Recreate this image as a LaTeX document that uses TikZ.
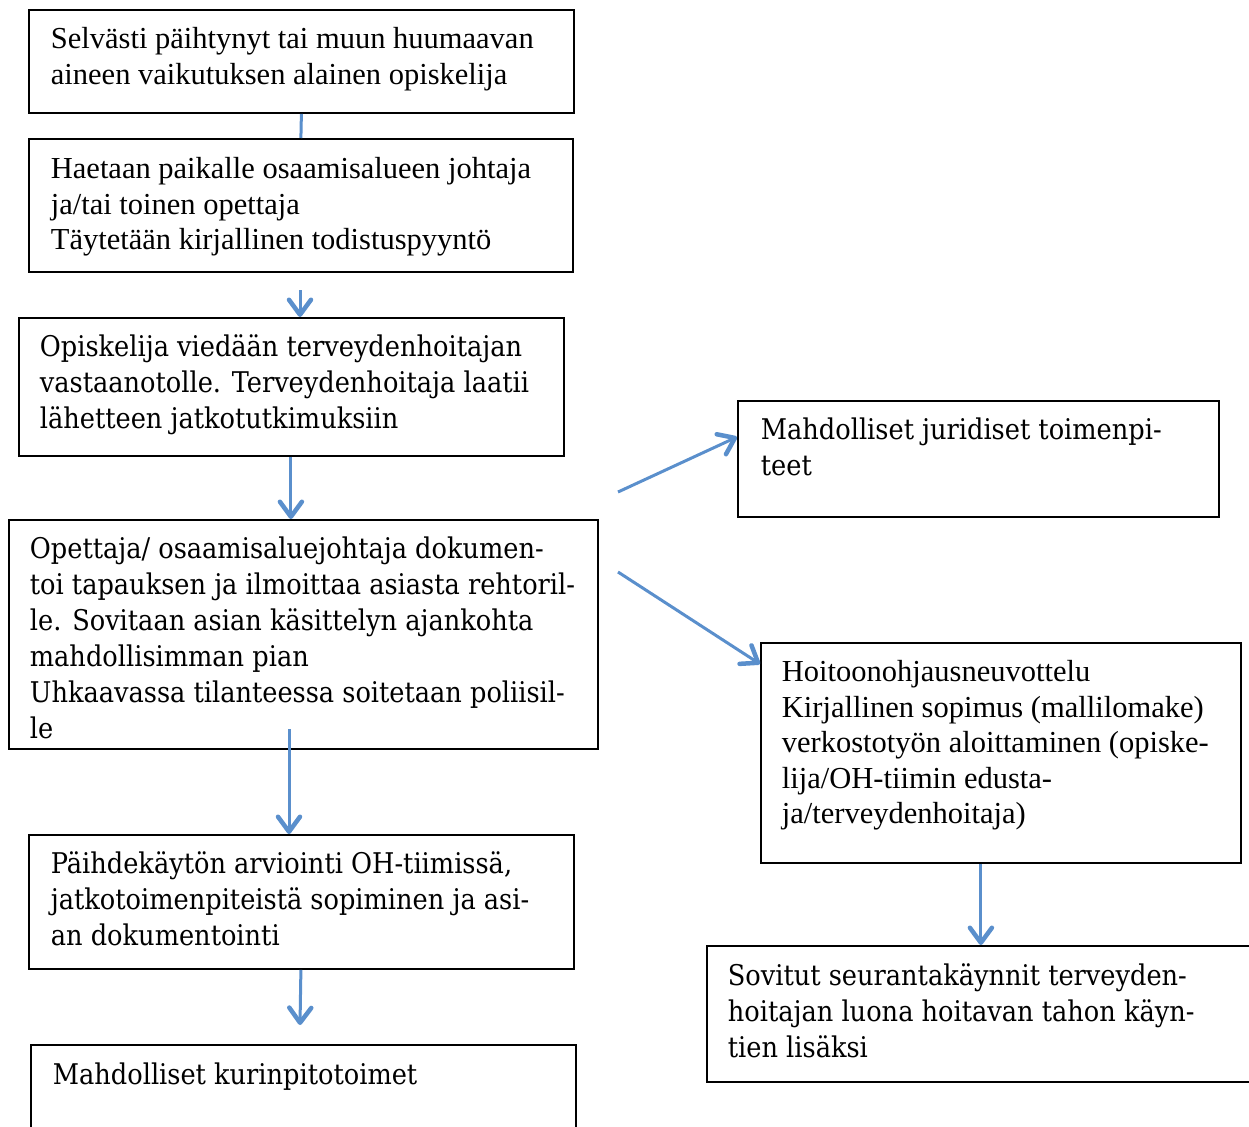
\documentclass[tikz,border=0pt]{standalone}
\usepackage{fontspec}
\setmainfont{Liberation Serif}
\newfontfamily\camfont{DejaVu Serif Condensed}
\usetikzlibrary{arrows.meta}
\definecolor{conblue}{HTML}{5A8FCC}
% #1 width, #2 height, #3 left pad, #4 first baseline offset, #5 text
\newcommand\bt[5]{\parbox[c][#2][t]{#1}{\raggedright\setlength\leftskip{#3}\rule{0pt}{#4}#5\par}}
\newcommand\tms{\fontsize{30.5pt}{35.5pt}\selectfont}
\newcommand\cam{\camfont\fontsize{28.5pt}{36pt}\selectfont}
\tikzset{
  box/.style={draw=black, line width=1.8pt, inner sep=0pt, anchor=north west},
  con/.style={draw=conblue, line width=3pt},
  arr/.style={con, -{Straight Barb[length=15pt,width=22pt,line width=4.5pt,round]}}
}
\begin{document}
\begin{tikzpicture}[x=1pt,y=-1pt]
\useasboundingbox (0,0) rectangle (1249,1126);
\node[box] (b1) at (28,9) {\bt{545pt}{103pt}{22pt}{39pt}{\tms Selvästi päihtynyt tai muun huumaavan\\aineen vaikutuksen alainen opiskelija}};
\node[box] (b2) at (28,138) {\bt{544pt}{133pt}{22pt}{40pt}{\tms Haetaan paikalle osaamisalueen johtaja\\ja/tai toinen opettaja\\Täytetään kirjallinen todistuspyyntö}};
\node[box] (b3) at (18,317) {\bt{545pt}{138pt}{21pt}{39pt}{\cam Opiskelija viedään terveydenhoitajan\\vastaanotolle. Terveydenhoitaja laatii\\lähetteen jatkotutkimuksiin}};
\node[box] (b4) at (8,519) {\bt{589pt}{229pt}{21pt}{39pt}{\cam Opettaja/ osaamisaluejohtaja dokumen-\\toi tapauksen ja ilmoittaa asiasta rehtoril-\\le. Sovitaan asian käsittelyn ajankohta\\mahdollisimman pian\\Uhkaavassa tilanteessa soitetaan poliisil-\\le}};
\node[box] (b5) at (28,834) {\bt{545pt}{134pt}{22pt}{39pt}{\cam Päihdekäytön arviointi OH-tiimissä,\\jatkotoimenpiteistä sopiminen ja asi-\\an dokumentointi}};
\node[box] (b6) at (30,1044) {\bt{545pt}{110pt}{22pt}{40pt}{\cam Mahdolliset kurinpitotoimet}};
\node[box] (b7) at (737,400) {\bt{481pt}{116pt}{23pt}{39pt}{\cam Mahdolliset juridiset toimenpi-\\teet}};
\node[box] (b8) at (760,642) {\bt{480pt}{220pt}{21pt}{39pt}{\tms Hoitoonohjausneuvottelu\\Kirjallinen sopimus (mallilomake)\\verkostotyön aloittaminen (opiske-\\lija/OH-tiimin edusta-\\ja/terveydenhoitaja)}};
\node[box] (b9) at (706,945) {\bt{560pt}{136pt}{21pt}{40pt}{\cam Sovitut seurantakäynnit terveyden-\\hoitajan luona hoitavan tahon käyn-\\tien lisäksi}};
% connectors
\coordinate (c23s) at (300,290);
\coordinate (c45s) at (289,729);
\coordinate (c56e) at (300,1025);
\coordinate (c47s) at (618,492);
\coordinate (c48s) at (618,572);
\draw[con] (b1.south) -- (b2.north);
\draw[arr] (c23s) -- (c23s |- b3.north);
\draw[arr] ([xshift=-0.5pt]b3.south) -- ([xshift=-0.5pt]b3.south |- b4.north);
\draw[arr] (c45s) -- (c45s |- b5.north);
\draw[arr] ([xshift=-0.5pt]b5.south) -- (c56e);
\draw[arr] (c47s) -- ([yshift=-37pt]b7.north west);
\draw[arr] (c48s) -- ([yshift=-22pt]b8.north west);
\draw[arr] ([xshift=-20pt]b8.south) -- ([xshift=-20pt]b8.south |- b9.north);
\end{tikzpicture}
\end{document}
